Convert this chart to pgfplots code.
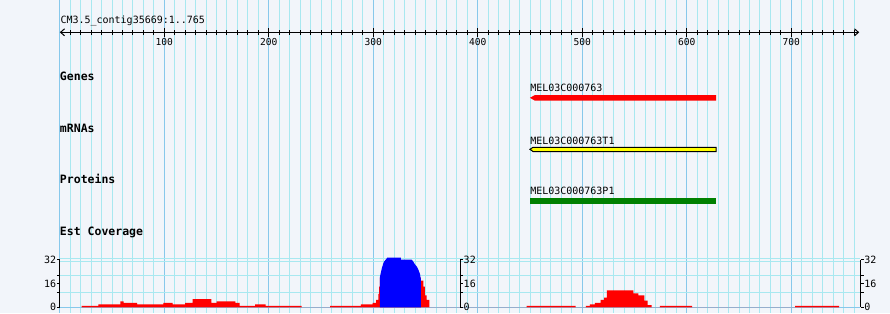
\documentclass[border=0pt]{standalone}
\usepackage{pgfplots}
\pgfplotsset{compat=1.18}
\usepackage{fontspec}
\setmonofont{DejaVu Sans Mono}
\usetikzlibrary{arrows.meta}
\definecolor{bg}{RGB}{242,245,250}
\definecolor{gminor}{RGB}{168,232,240}
\definecolor{gmajor}{RGB}{135,200,235}
\definecolor{fred}{RGB}{255,0,0}
\definecolor{fblue}{RGB}{0,0,255}
\definecolor{fyellow}{RGB}{255,255,0}
\definecolor{fgreen}{RGB}{0,128,0}
\newcommand{\lab}{\fontsize{10}{12}\selectfont\ttfamily}
\newcommand{\tlab}{\fontsize{9.6}{11}\selectfont\ttfamily}
\newcommand{\blab}{\fontsize{11.5}{13}\selectfont\ttfamily\bfseries}
\pgfplotsset{base/.style={width=890pt,height=313pt,scale only axis,
  xmin=-57.22,xmax=794.45,axis line style={draw=none},
  major tick length=0pt,minor tick length=0pt,
  xticklabels={},yticklabels={},ytick=\empty}}
\begin{document}
\begin{tikzpicture}
% ---------- upper part: ruler, grid, features (y in pixels, downward)
\begin{axis}[base,ymin=0,ymax=313,y dir=reverse,
  axis background/.style={fill=bg},
  xtick={0,100,...,700},minor xtick={0,10,...,760},
  xmajorgrids,xminorgrids,
  major grid style={gmajor,line width=1pt},
  minor grid style={gminor,line width=1pt}]
% ruler
\draw[line width=1pt,{Straight Barb[length=4pt,width=7pt]}-{Straight Barb[length=4pt,width=7pt]}]
  (axis cs:0,32.3) -- (axis cs:765,32.3);
\pgfplotsinvokeforeach{10,20,...,760}{\draw[line width=1pt] (axis cs:#1,30.3) -- (axis cs:#1,34.8);}
\pgfplotsinvokeforeach{100,200,...,700}{\draw[line width=1pt] (axis cs:#1,28.3) -- (axis cs:#1,36.8);
  \node[font=\tlab,inner sep=0pt,anchor=center] at (axis cs:#1,42.5) {#1};}
\node[font=\lab,inner sep=0pt,anchor=base west] at (axis cs:0.5,24) {CM3.5\_contig35669:1..765};
% track labels
\node[font=\blab,inner sep=0pt,anchor=base west] at (axis cs:0,80) {Genes};
\node[font=\blab,inner sep=0pt,anchor=base west] at (axis cs:0,132) {mRNAs};
\node[font=\blab,inner sep=0pt,anchor=base west] at (axis cs:0,183) {Proteins};
\node[font=\blab,inner sep=0pt,anchor=base west] at (axis cs:0,235) {Est Coverage};
% features
\addplot[fill=fred,draw=none] coordinates {(449.9,97.8)(454.7,95)(628,95)(628,100.7)(454.7,100.7)} -- cycle;
\addplot[fill=fyellow,draw=black,line width=1pt] coordinates {(449.9,149.3)(452.8,147.3)(628,147.3)(628,151.5)(452.8,151.5)} -- cycle;
\addplot[fill=fgreen,draw=none] coordinates {(449.9,197.7)(628,197.7)(628,203.7)(449.9,203.7)} -- cycle;
\node[font=\lab,inner sep=0pt,anchor=base west] at (axis cs:450,91.3) {MEL03C000763};
\node[font=\lab,inner sep=0pt,anchor=base west] at (axis cs:450,144) {MEL03C000763T1};
\node[font=\lab,inner sep=0pt,anchor=base west] at (axis cs:450,194.7) {MEL03C000763P1};
\end{axis}
% ---------- coverage track (y in coverage units)
\begin{axis}[base,ymin=-3.857,ymax=207.9,xtick=\empty]
\pgfplotsinvokeforeach{33.2,30.8,21.2,9.9}{\draw[gminor,line width=1pt] (axis cs:0,#1) -- (axis cs:766,#1);}
\draw[gmajor,line width=1pt] (axis cs:0,0) -- (axis cs:766,0);
\addplot[const plot,fill=fred,draw=none] coordinates {
(21,1)(37,2)(58,4)(61,3)(74,2)(99,3)(108,2)(120,3)(127,5.5)(145,3)(150,4)(168,3)(172,1)(187,2)(197,1)(231.5,0)
(258.6,1)(288,2)(299.4,3)(302.6,5)(304.8,9)(305.6,14)(306.4,20)(345.6,18)(347.8,14)(349.4,8)(351.1,5)(353.6,0)
(446.8,1)(493.7,0)
(503.5,1)(507.3,2)(512.1,3)(517.6,5)(520.8,6.5)(523.4,11.5)(548.8,9.5)(553.6,8)(559.3,4.5)(562.6,1.5)(566.4,0)
(574.3,1)(605.2,0)
(703.6,1)(745.7,0)} \closedcycle;
\addplot[fill=fblue,draw=none] coordinates {(306.4,0)(306.4,20.7)(307.4,24)(308.3,26.8)(309.3,29)(310.2,30.9)(311.9,32.2)(313.4,33.6)(326.5,33.6)(326.5,32.2)(336.7,32.2)(338.3,30.9)(339.9,29)(341.5,27.7)(343.1,25.5)(344.7,22.5)(345.6,18.5)(345.6,0)} \closedcycle;
% scale axes
\draw[line width=1pt] (axis cs:0,0) -- (axis cs:0,32);
\pgfplotsinvokeforeach{0,9.9,16,21.2,32}{\draw[line width=1pt] ([xshift=-3pt]axis cs:0,#1) -- (axis cs:0,#1);}
\pgfplotsinvokeforeach{0,16,32}{\node[font=\lab,inner sep=0pt,anchor=east] at ([xshift=-3.5pt]axis cs:0,#1) {#1};}
\draw[line width=1pt] (axis cs:383,0) -- (axis cs:383,32);
\pgfplotsinvokeforeach{0,9.9,16,21.2,32}{\draw[line width=1pt] (axis cs:383,#1) -- ([xshift=3pt]axis cs:383,#1);}
\pgfplotsinvokeforeach{0,16,32}{\node[font=\lab,inner sep=0pt,anchor=west] at ([xshift=3.5pt]axis cs:383,#1) {#1};}
\draw[line width=1pt] (axis cs:766.3,0) -- (axis cs:766.3,32);
\pgfplotsinvokeforeach{0,9.9,16,21.2,32}{\draw[line width=1pt] (axis cs:766.3,#1) -- ([xshift=3pt]axis cs:766.3,#1);}
\pgfplotsinvokeforeach{0,16,32}{\node[font=\lab,inner sep=0pt,anchor=west] at ([xshift=3.5pt]axis cs:766.3,#1) {#1};}
\end{axis}
\pgfresetboundingbox
\path[use as bounding box] (current axis.south west) rectangle (current axis.north east);
\end{tikzpicture}
\end{document}
